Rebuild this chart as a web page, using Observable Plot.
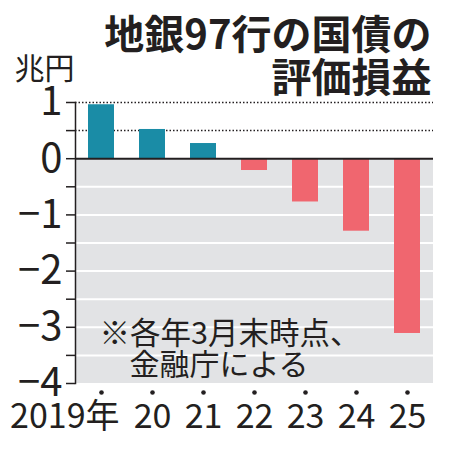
<!DOCTYPE html>
<html><head><meta charset="utf-8">
<script src="https://cdn.jsdelivr.net/npm/d3@7"></script>
<script src="https://cdn.jsdelivr.net/npm/@observablehq/plot@0.6"></script>
<style>body{margin:0;background:#fff}</style>
</head><body><div id="chart"></div>
<script>
const years = ["2019","2020","2021","2022","2023","2024","2025"];
const yearLabels = ["2019年","20","21","22","23","24","25"];
const values = [0.96, 0.52, 0.27, -0.21, -0.77, -1.29, -3.11];
const yTickLabels = [1, 0, -1, -2, -3, -4];
const yMinorTicks = [1, 0.5, 0, -0.5, -1, -1.5, -2, -2.5, -3, -3.5, -4];
const negGrid = [-0.5, -1, -1.5, -2, -2.5, -3, -3.5];
const dottedLines = [1, 0.5];
const title = "地銀97行の国債の\n評価損益";
const unit = "兆円";
const note1 = "※各年3月末時点、";
const note2 = "金融庁による";

const data = years.map((y, i) => ({year: y, label: yearLabels[i], value: values[i]}));
const ink = "#231f20";
const teal = "#1a8ca6";
const red = "#f0666f";
const jp = "'Noto Sans CJK JP', sans-serif";
const fmt = d => d < 0 ? "\u2212" + Math.abs(d) : String(d);

const chart = Plot.plot({
  width: 450, height: 450,
  marginLeft: 75, marginRight: 17, marginTop: 102, marginBottom: 67,
  style: {fontFamily: jp, color: ink, background: "white"},
  x: {domain: years, paddingInner: 0.5, paddingOuter: 0.25, axis: null},
  y: {domain: [-4, 1], axis: null},
  marks: [
    Plot.rect([{}], {y1: 0, y2: -4, fill: "#e2e3e5"}),
    Plot.ruleY(negGrid, {stroke: "white", strokeWidth: 2}),
    Plot.ruleY(dottedLines, {stroke: ink, strokeWidth: 1.5, strokeDasharray: "1.5,2"}),
    Plot.barY(data, {x: "year", y: "value", fill: d => d.value >= 0 ? teal : red}),
    Plot.ruleY([0], {stroke: ink, strokeWidth: 2}),
    Plot.frame({anchor: "left", stroke: ink, strokeWidth: 1.5}),
    Plot.axisY(yMinorTicks, {tickSize: 9, tickFormat: () => "", label: null, stroke: ink, strokeWidth: 1.5}),
    Plot.axisY(yTickLabels, {tickSize: 0, tickPadding: 13, fontSize: 40, label: null, tickFormat: fmt, fill: ink, fontFamily: jp}),
    Plot.dot(data, {x: "year", frameAnchor: "bottom", dy: 9, r: 2.3, fill: ink}),
    Plot.text(data.slice(1), {x: "year", text: "label", frameAnchor: "bottom", lineAnchor: "top", dy: 20, fontSize: 34, fontFamily: jp, fill: ink}),
    Plot.text(data.slice(0, 1), {x: "year", text: "label", frameAnchor: "bottom", lineAnchor: "top", textAnchor: "end", dx: 18, dy: 20, fontSize: 34, fontFamily: jp, fill: ink}),
    Plot.text([title], {frameAnchor: "top-right", textAnchor: "end", lineAnchor: "top", dx: -2, dy: -84, fontSize: 40, fontWeight: "bold", lineHeight: 1.08, fontFamily: jp, fill: ink}),
    Plot.text([unit], {frameAnchor: "top-left", textAnchor: "start", lineAnchor: "bottom", dx: -61, dy: -24, fontSize: 30, fontFamily: jp, fill: ink}),
    Plot.text([note1], {frameAnchor: "bottom-left", textAnchor: "start", lineAnchor: "bottom", dx: 24, dy: -40, fontSize: 30.5, fontFamily: jp, fill: ink}),
    Plot.text([note2], {frameAnchor: "bottom-left", textAnchor: "start", lineAnchor: "bottom", dx: 54, dy: -9, fontSize: 30, fontFamily: jp, fill: ink})
  ]
});
document.getElementById("chart").appendChild(chart);
</script>
</body></html>
